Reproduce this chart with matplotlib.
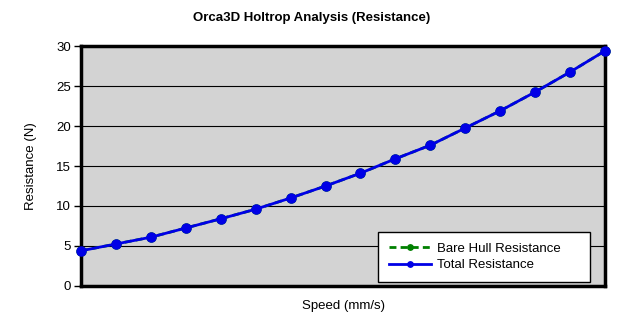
import matplotlib.pyplot as plt

plt.rcParams['font.family'] = ['Liberation Sans', 'DejaVu Sans']

# valores (resistência em N para cada ponto de velocidade)
speed = list(range(16))
total_res = [4.4, 5.25, 6.1, 7.25, 8.4, 9.6, 11.0, 12.5, 14.1, 15.9,
             17.6, 19.75, 21.9, 24.25, 26.75, 29.4]
bare_res = [4.4, 5.25, 6.1, 7.25, 8.4, 9.6, 11.0, 12.5, 14.1, 15.9,
            17.6, 19.75, 21.9, 24.25, 26.75, 29.4]
yticks = [0, 5, 10, 15, 20, 25, 30]

fig = plt.figure(figsize=(6.24, 3.24), dpi=100)
ax = fig.add_axes([0.1298, 0.1173, 0.8398, 0.7407])
ax.set_facecolor('#d3d3d3')

ax.plot(speed, bare_res, color='#008000', linestyle=(0, (2.5, 1.5)), marker='o',
        markersize=6.5, linewidth=2, label='Bare Hull Resistance', clip_on=False)
ax.plot(speed, total_res, color='#0000e6', marker='o', markersize=6.5,
        linewidth=2, label='Total Resistance', clip_on=False, zorder=3)

ax.set_xlim(speed[0], speed[-1])
ax.set_ylim(0, 30)
ax.set_yticks(yticks)
ax.set_xticks([])
ax.yaxis.grid(True, color='black', linewidth=0.8)
ax.set_axisbelow(True)
ax.tick_params(axis='y', direction='out', length=5, width=1, labelsize=9.5, pad=2)
for s in ax.spines.values():
    s.set_linewidth(2.5)

fig.text(0.5, 0.944, 'Orca3D Holtrop Analysis (Resistance)', ha='center',
         va='center', fontsize=9.5, fontweight='bold')
ax.set_xlabel('Speed (mm/s)', fontsize=9.5, labelpad=10)
ax.set_ylabel('Resistance (N)', fontsize=9.5, labelpad=14)

leg = ax.legend(loc='lower left', bbox_to_anchor=(0.567, 0.017, 0.405, 0.2),
                mode='expand', borderaxespad=0, fontsize=9.5,
                fancybox=False, framealpha=1, edgecolor='black',
                handlelength=3.2, handletextpad=0.5, markerscale=0.6,
                borderpad=0.8, labelspacing=0.35)
leg.get_frame().set_linewidth(1)

plt.savefig('out.png', dpi=100)
plt.close()
